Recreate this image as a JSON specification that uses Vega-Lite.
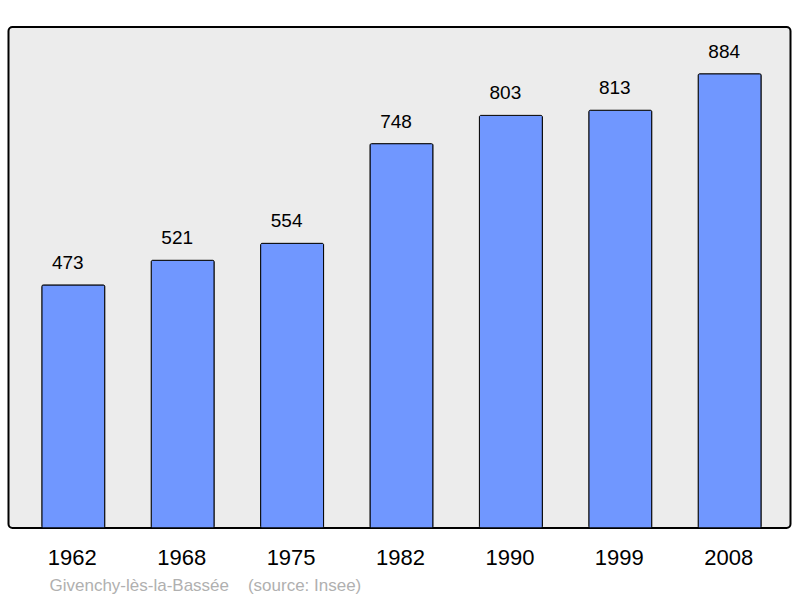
{
  "$schema": "https://vega.github.io/schema/vega-lite/v6.json",
  "autosize": "none",
  "width": 782,
  "height": 501,
  "padding": {"left": 8.5, "top": 27, "right": 9.5, "bottom": 70},
  "background": "#ffffff",
  "config": {
    "view": {"fill": "#ececec", "stroke": "#000000", "strokeWidth": 2, "cornerRadius": 4},
    "font": "Liberation Sans"
  },
  "data": {
    "values": [
      {"year": "1962", "population": 473},
      {"year": "1968", "population": 521},
      {"year": "1975", "population": 554},
      {"year": "1982", "population": 748},
      {"year": "1990", "population": 803},
      {"year": "1999", "population": 813},
      {"year": "2008", "population": 884}
    ]
  },
  "encoding": {
    "x": {
      "field": "year",
      "type": "ordinal",
      "sort": null,
      "scale": {"paddingInner": 0.424, "paddingOuter": 0, "range": [33.3, 752.7]},
      "axis": {
        "domain": false,
        "ticks": false,
        "grid": false,
        "labelAngle": 0,
        "labelFont": "Liberation Sans",
        "labelFontSize": 22,
        "labelColor": "#000000",
        "labelBaseline": "alphabetic",
        "labelPadding": 36.5,
        "labelOffset": -1,
        "title": "Givenchy-lès-la-Bassée\u00a0\u00a0\u00a0 (source: Insee)",
        "titleFont": "Liberation Sans",
        "titleFontSize": 17,
        "titleFontWeight": "normal",
        "titleColor": "#b0b0b0",
        "titleAnchor": "start",
        "titleAlign": "left",
        "titleBaseline": "alphabetic",
        "titleX": 40.5,
        "titleY": 62.5
      }
    },
    "y": {
      "field": "population",
      "type": "quantitative",
      "scale": {"domain": [0, 975], "nice": false, "zero": true},
      "axis": null
    }
  },
  "layer": [
    {
      "mark": {"type": "bar", "color": "#7097ff", "stroke": "#000000", "strokeWidth": 1, "cornerRadius": 1.5}
    },
    {
      "mark": {"type": "text", "baseline": "alphabetic", "dy": -16, "dx": -5.5, "fontSize": 19, "font": "Liberation Sans", "color": "#000000"},
      "encoding": {"text": {"field": "population", "type": "quantitative"}}
    }
  ]
}
